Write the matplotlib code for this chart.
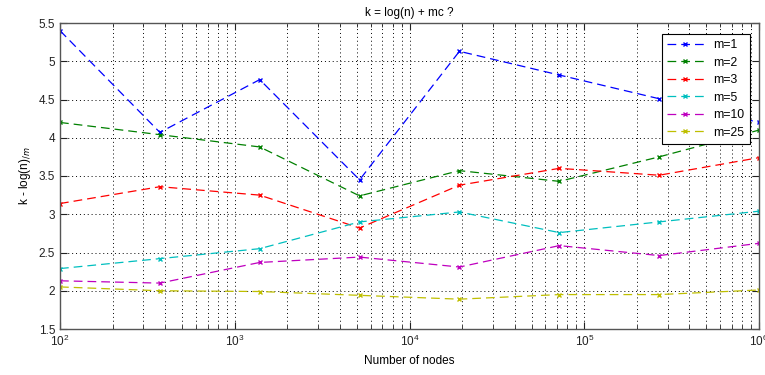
import matplotlib.pyplot as plt
import numpy as np

# number of nodes (log spaced 1e2 .. 1e6)
nodes = [100, 372.76, 1389.5, 5179.5, 19306.98, 71968.57, 268269.58, 1000000]

m_labels = ['m=1', 'm=2', 'm=3', 'm=5', 'm=10', 'm=25']
m1 = [5.40, 4.07, 4.76, 3.45, 5.13, 4.82, 4.51, 4.20]
m2 = [4.20, 4.04, 3.88, 3.24, 3.57, 3.43, 3.75, 4.10]
m3 = [3.14, 3.36, 3.25, 2.82, 3.38, 3.60, 3.51, 3.74]
m5 = [2.29, 2.42, 2.55, 2.90, 3.03, 2.76, 2.90, 3.04]
m10 = [2.13, 2.10, 2.37, 2.44, 2.31, 2.59, 2.46, 2.62]
m25 = [2.05, 2.00, 1.99, 1.94, 1.89, 1.95, 1.95, 2.01]

series = [m1, m2, m3, m5, m10, m25]
colors = ['#0000ff', '#008000', '#ff0000', '#00bfbf', '#bf00bf', '#bfbf00']

plt.rcParams['font.family'] = ['Liberation Sans', 'DejaVu Sans']
plt.rcParams['font.size'] = 8.5

fig = plt.figure(figsize=(7.65, 3.75), dpi=100)
ax = fig.add_axes([60/765, 1 - 329/375, (759 - 60)/765, (329 - 23)/375])

for vals, col, lab in zip(series, colors, m_labels):
    ax.plot(nodes, vals, '--', color=col, marker='x', markersize=3.5,
            linewidth=0.9, dashes=(7, 4), label=lab)

ax.set_xscale('log')
ax.set_xlim(100, 1e6)
ax.set_ylim(1.5, 5.5)
ax.set_yticks(np.arange(1.5, 5.51, 0.5))
ax.set_yticklabels(['1.5', '2', '2.5', '3', '3.5', '4', '4.5', '5', '5.5'])

ax.grid(True, which='major', axis='both', color='black', linestyle=(0, (1, 3)), linewidth=0.7)
ax.grid(True, which='minor', axis='x', color='black', linestyle=(0, (1, 3)), linewidth=0.7)

ax.tick_params(which='both', direction='in', top=True, right=True, colors='#222222')
ax.tick_params(which='major', length=5)
ax.tick_params(which='minor', length=3)
for s in ax.spines.values():
    s.set_color('#555555')
    s.set_linewidth(1.0)

ax.set_title('k = log(n) + mc ?', fontsize=8.5, pad=5)
ax.set_xlabel('Number of nodes', fontsize=8.5)
ax.set_ylabel(r'k - log(n)$_{/m}$', fontsize=8.5)

leg = ax.legend(loc='upper right', fontsize=8.8, fancybox=False, framealpha=1,
                edgecolor='black', handlelength=3.0, borderpad=0.45,
                labelspacing=0.45, bbox_to_anchor=(0.996, 0.985))
leg.get_frame().set_linewidth(0.8)

fig.savefig('out.png', dpi=100)
